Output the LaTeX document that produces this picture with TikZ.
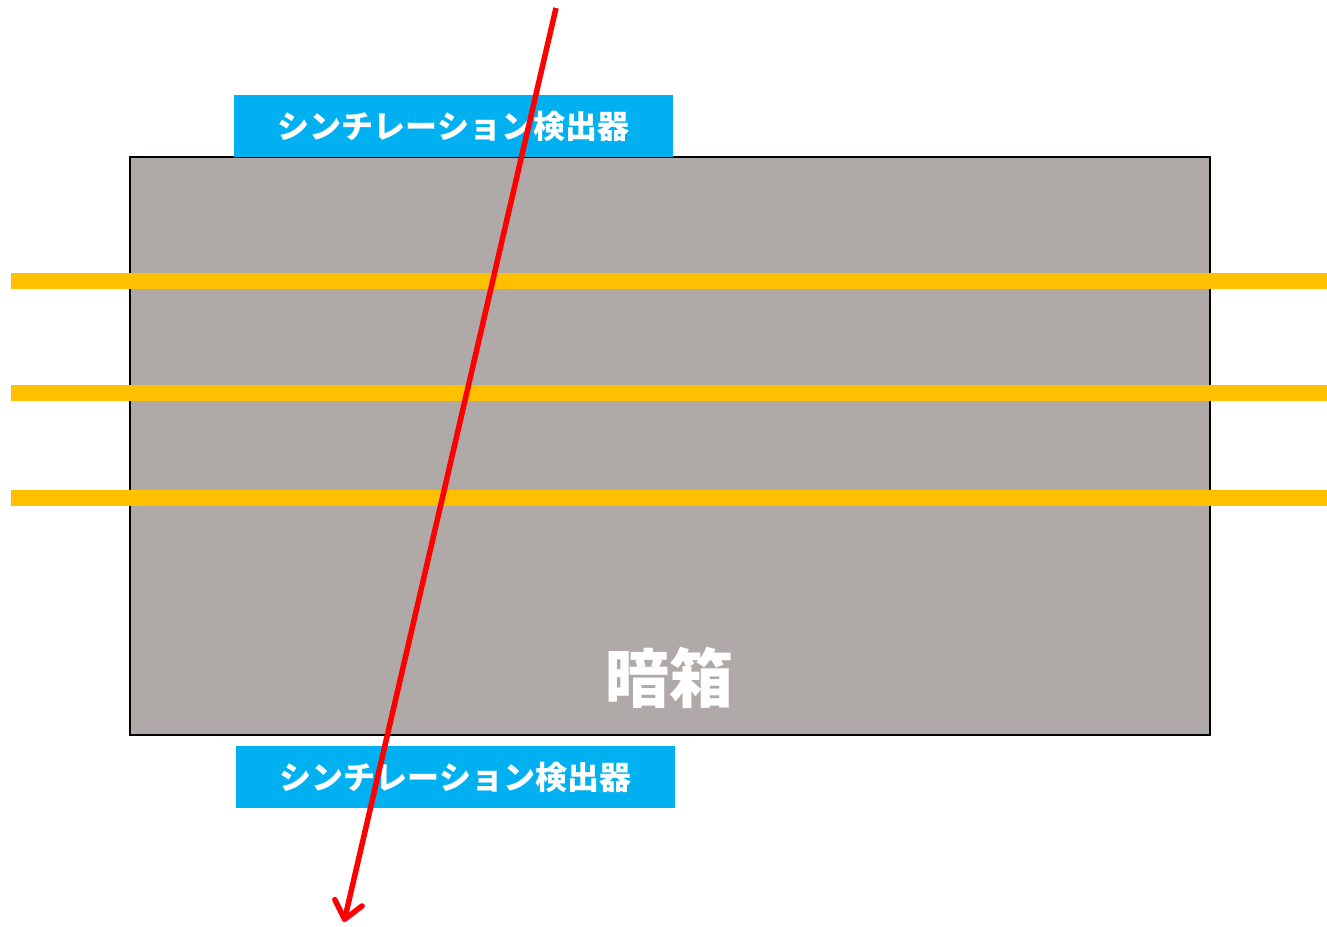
\documentclass[tikz,border=0pt]{standalone}
\usepackage{fontspec}
\newfontfamily\cjk{Noto Sans CJK JP}
\usetikzlibrary{arrows.meta}
\definecolor{boxgray}{HTML}{AFAAA8}
\definecolor{baryellow}{HTML}{FFC000}
\definecolor{labelblue}{HTML}{00B0F0}
\tikzset{
  darkbox/.style={draw=black, line width=2.5pt, fill=boxgray, minimum width=1080pt, minimum height=578pt, inner sep=0pt},
  detector/.style={fill=labelblue, text=white, minimum width=439pt, minimum height=62pt, inner sep=0pt, font=\cjk\bfseries\fontsize{32}{32}\selectfont},
  bar/.style={baryellow, line width=16pt},
  ray/.style={red, line width=5.5pt, -{Straight Barb[length=17pt, width=28pt, line width=5.5pt, round]}}
}
\begin{document}
\begin{tikzpicture}[x=1pt, y=-1pt]
\useasboundingbox (0,0) rectangle (1327,926);
\node[darkbox] (box) at (670,446) {};
\foreach \y [count=\i] in {281,393,498}{
  \coordinate (bl\i) at (11,\y);
  \coordinate (br\i) at (1327,\y);
  \draw[bar] (bl\i) -- (br\i);
}
\node[text=white, font=\cjk\bfseries\fontsize{64}{64}\selectfont] (title) at (669,678) {暗箱};
\node[detector] (top) at (453.5,126) {シンチレーション検出器};
\node[detector] (bottom) at (455.5,777) {シンチレーション検出器};
\coordinate (src) at (556,8);
\coordinate (dst) at (344,922);
\draw[ray] (src) -- (dst);
\end{tikzpicture}
\end{document}
